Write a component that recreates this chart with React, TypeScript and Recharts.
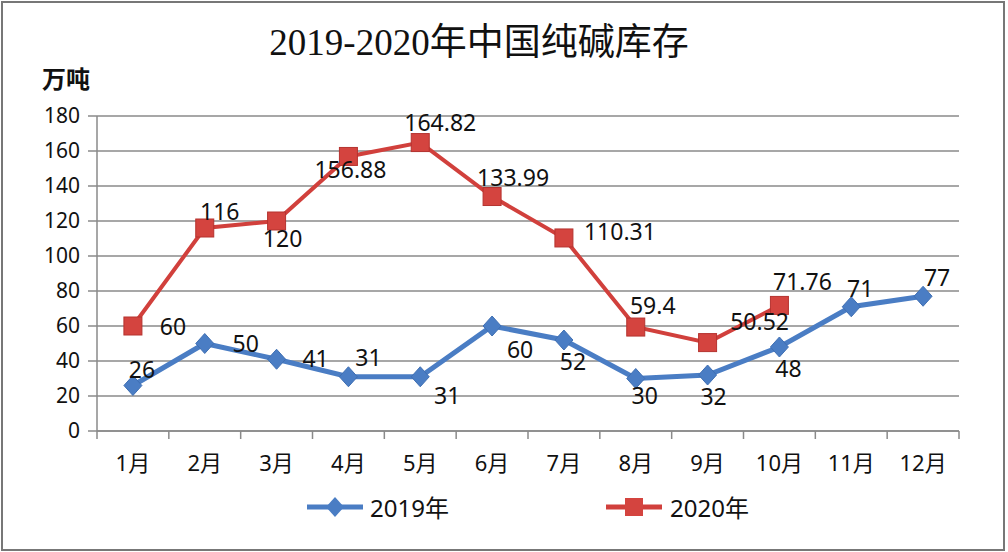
import React from "react";
import { ComposedChart, Line, XAxis, YAxis, CartesianGrid, LabelList } from "recharts";

const MONTHS = ["1月", "2月", "3月", "4月", "5月", "6月", "7月", "8月", "9月", "10月", "11月", "12月"];
const STOCK_2019 = [26, 50, 41, 31, 31, 60, 52, 30, 32, 48, 71, 77];
const STOCK_2020 = [60, 116, 120, 156.88, 164.82, 133.99, 110.31, 59.4, 50.52, 71.76];
const Y_TICKS = [0, 20, 40, 60, 80, 100, 120, 140, 160, 180];

// label nudges (dx, dy) so the value labels sit where the original puts them
const OFFSETS_2019 = [[9, -17], [41, -1], [39, -1], [20, -20], [27, 18], [28, 23], [9, 21], [9, 16], [6, 21], [9, 21], [9, -19], [14, -19]];
const OFFSETS_2020 = [[40, 0], [15, -17], [6, 17], [2, 13], [20, -21], [21, -20], [56, -7], [17, -22], [52, -22], [23, -24]];

const BLUE = "#4A7DC4";
const RED = "#D1403C";
const GRID = "#8a8a8a";
const FONT = "'Noto Sans', 'Noto Sans CJK SC', sans-serif";

const W = 1008;
const H = 552;
const PLOT_LEFT = 97;
const PLOT_RIGHT = 959;
const BAND = (PLOT_RIGHT - PLOT_LEFT) / MONTHS.length;

const data = MONTHS.map((m, i) => ({
  month: m,
  y2019: STOCK_2019[i],
  y2020: i < STOCK_2020.length ? STOCK_2020[i] : null,
}));

const Diamond = (props: any) => {
  const { cx, cy } = props;
  if (cx == null || cy == null) return null;
  return <path d={`M${cx},${cy - 10}L${cx + 9},${cy}L${cx},${cy + 10}L${cx - 9},${cy}Z`} fill={BLUE} stroke="#3f6fb3" strokeWidth={1} />;
};

const Square = (props: any) => {
  const { cx, cy, value } = props;
  if (cx == null || cy == null || value == null) return null;
  return <rect x={cx - 9} y={cy - 9} width={18} height={18} fill="#D4443F" stroke="#B5332F" strokeWidth={1} />;
};

const makeLabel = (offsets: number[][]) => (props: any) => {
  const { x, y, value, index } = props;
  if (value == null || x == null || y == null) return null;
  const [dx, dy] = offsets[index] || [0, -18];
  return (
    <text x={x + dx} y={y + dy} textAnchor="middle" dominantBaseline="central" fontSize={23} fill="#111" fontFamily={FONT}>
      {value}
    </text>
  );
};

const MonthTick = (props: any) => {
  const { x, y, payload, index } = props;
  return (
    <g>
      <line x1={x - BAND / 2} y1={y} x2={x - BAND / 2} y2={y + 8} stroke={GRID} strokeWidth={1.5} />
      {index === MONTHS.length - 1 && (
        <line x1={x + BAND / 2} y1={y} x2={x + BAND / 2} y2={y + 8} stroke={GRID} strokeWidth={1.5} />
      )}
      <text x={x} y={y + 31} textAnchor="middle" dominantBaseline="central" fontSize={22} fill="#111" fontFamily={FONT}>
        {payload.value}
      </text>
    </g>
  );
};

export default function App() {
  return (
    <div style={{ position: "absolute", left: 0, top: 0, width: W, height: H, background: "#fff", fontFamily: FONT }}>
      <div style={{ position: "absolute", left: 1, top: 1, width: 1004, height: 550, border: "2px solid #777", boxSizing: "border-box" }} />
      <div
        style={{
          position: "absolute",
          left: 0,
          width: 958,
          top: 20,
          textAlign: "center",
          fontSize: 37,
          lineHeight: "46px",
          color: "#111",
          fontFamily: "'Liberation Serif', 'Noto Sans CJK SC', serif",
        }}
      >
        2019-2020年中国纯碱库存
      </div>
      <div style={{ position: "absolute", left: 42, top: 62, fontSize: 24, fontWeight: 700, lineHeight: "32px", color: "#111", fontFamily: "'Noto Sans CJK SC', sans-serif" }}>
        万吨
      </div>

      <ComposedChart width={W} height={H} data={data} margin={{ top: 116, right: W - PLOT_RIGHT, bottom: 81, left: PLOT_LEFT - 60 }}>
        <CartesianGrid vertical={false} stroke={GRID} strokeWidth={1.5} />
        <XAxis
          dataKey="month"
          scale="band"
          height={40}
          axisLine={{ stroke: GRID, strokeWidth: 1.5 }}
          tickLine={false}
          tickSize={0}
          tickMargin={0}
          interval={0}
          tick={<MonthTick />}
        />
        <YAxis
          width={60}
          domain={[0, 180]}
          ticks={Y_TICKS}
          interval={0}
          axisLine={{ stroke: GRID, strokeWidth: 1.5 }}
          tickLine={{ stroke: GRID, strokeWidth: 1.5 }}
          tickSize={9}
          tickMargin={8}
          tick={{ fontSize: 21, fill: "#111", fontFamily: FONT }}
        />
        <Line
          dataKey="y2019"
          stroke={BLUE}
          strokeWidth={5}
          dot={<Diamond />}
          activeDot={false}
          isAnimationActive={false}
        >
          <LabelList dataKey="y2019" content={makeLabel(OFFSETS_2019)} />
        </Line>
        <Line
          dataKey="y2020"
          stroke={RED}
          strokeWidth={4}
          dot={<Square />}
          activeDot={false}
          connectNulls={false}
          isAnimationActive={false}
        >
          <LabelList dataKey="y2020" content={makeLabel(OFFSETS_2020)} />
        </Line>
      </ComposedChart>

      {/* legend */}
      <svg style={{ position: "absolute", left: 300, top: 490 }} width={470} height={36}>
        <line x1={7} y1={17} x2={63} y2={17} stroke={BLUE} strokeWidth={5} />
        <path d="M35,7L44,17L35,27L26,17Z" fill={BLUE} />
        <text x={70} y={17} dominantBaseline="central" fontSize={24} fill="#111" fontFamily={FONT}>2019年</text>
        <line x1={306} y1={17} x2={362} y2={17} stroke={RED} strokeWidth={5} />
        <rect x={325} y={8} width={18} height={18} fill="#D4443F" />
        <text x={370} y={17} dominantBaseline="central" fontSize={24} fill="#111" fontFamily={FONT}>2020年</text>
      </svg>
    </div>
  );
}
